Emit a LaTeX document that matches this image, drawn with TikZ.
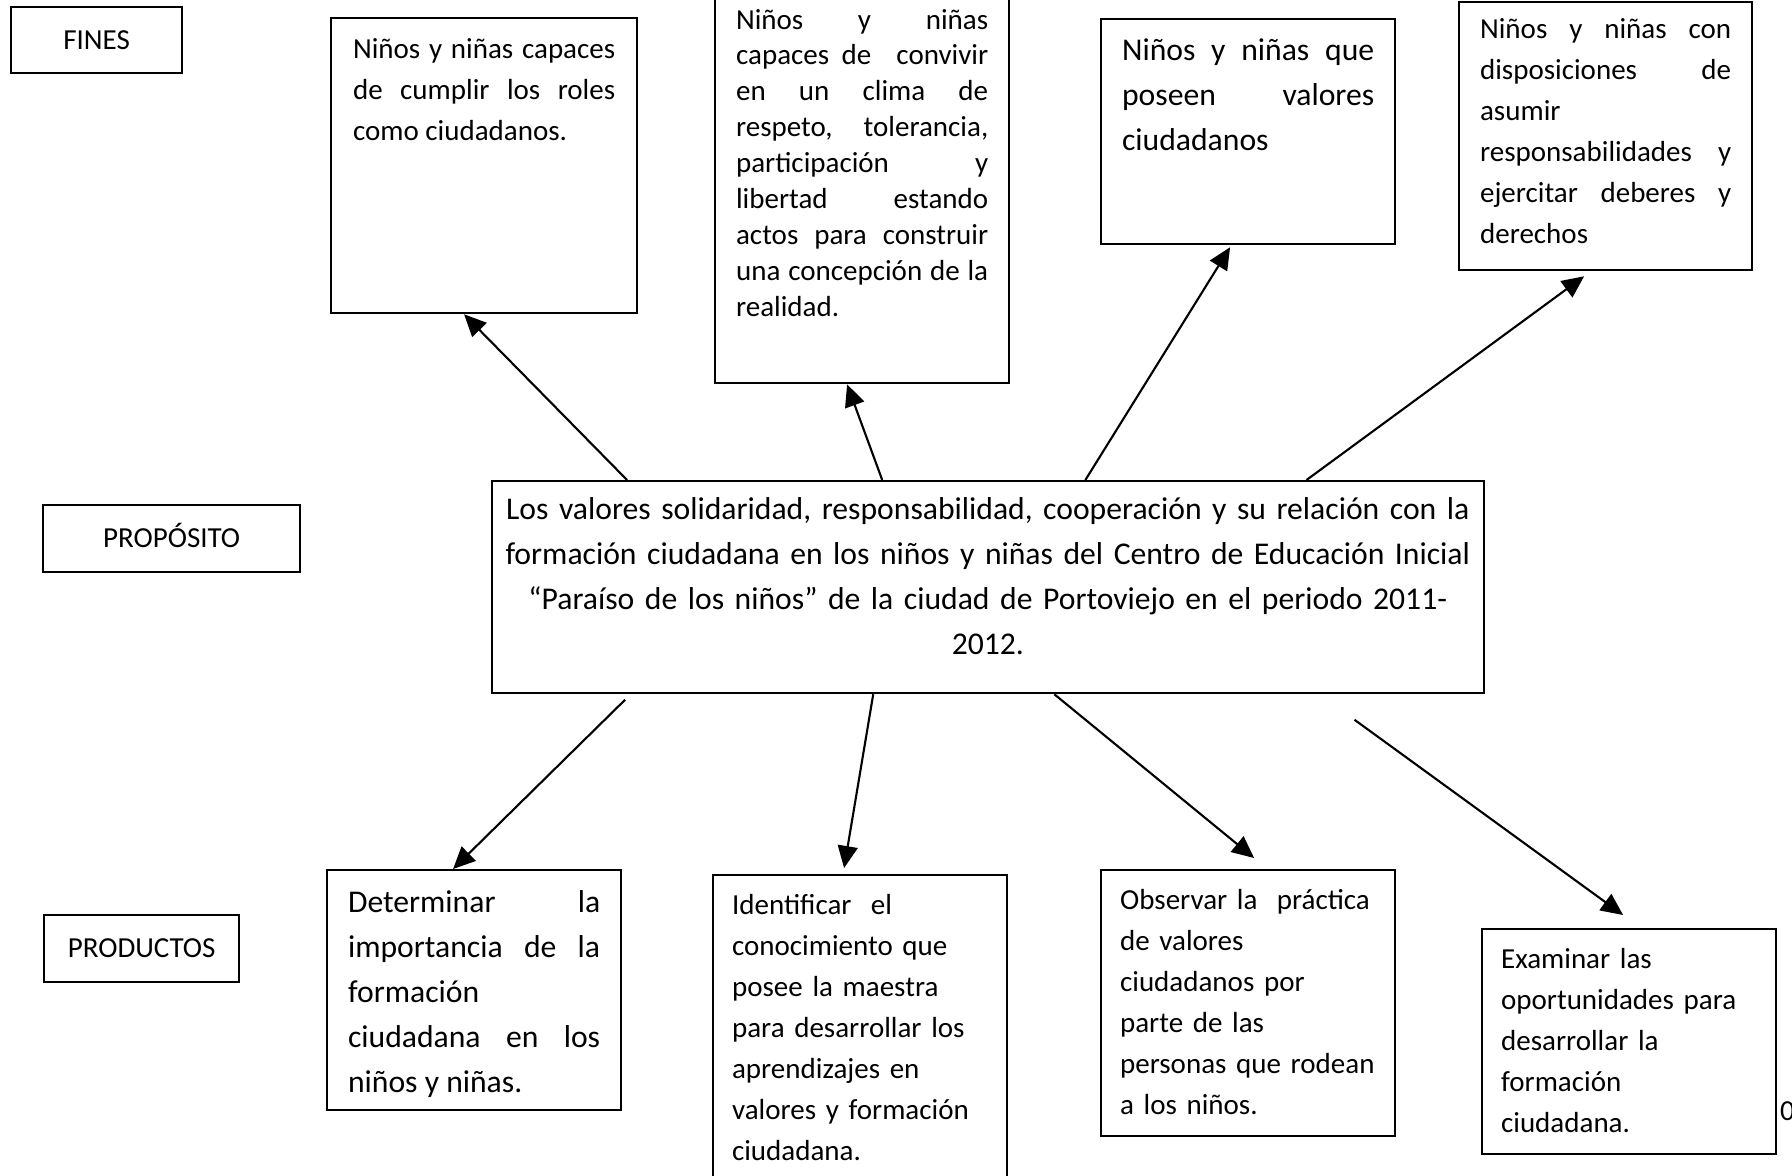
\documentclass[tikz,border=0pt]{standalone}
\usepackage{fontspec}
\setmainfont{Carlito}
\usetikzlibrary{arrows.meta}
\tolerance=10000
\hyphenpenalty=10000
\exhyphenpenalty=10000
\tikzset{
    lbl/.style={draw, anchor=north west, inner sep=0pt, text height=0.644em, text depth=0.12em, font=\fontsize{8.25}{11.7}\selectfont},
    box/.style={draw, anchor=north west, inner ysep=0pt, align=justify, font=\fontsize{8.25}{11.7}\selectfont},
    big/.style={font=\fontsize{9}{12.8}\selectfont}
}

\begin{document}
\begin{tikzpicture}[x=0.01cm,y=-0.01cm,line width=0.6pt,>={Triangle[length=2.2mm,width=2mm]}]
            \useasboundingbox (0,0) rectangle (1792,1175);
            %etiquetas
            \node[lbl, minimum width=1.71cm, minimum height=0.66cm] (fines) at (10,6) {FINES};
            \node[lbl, minimum width=2.57cm, minimum height=0.67cm] (proposito) at (42,504) {PROPÓSITO};
            \node[lbl, minimum width=1.95cm, minimum height=0.67cm] (productos) at (43,914) {PRODUCTOS};
            %fines
            \node[box, text width=2.62cm, inner xsep=0.22cm, text height=0.40cm, text depth=2.55cm] (fin1) at (330,17)
                {Niños y niñas capaces\linebreak de cumplir los roles\linebreak como ciudadanos.};
            \node[box, font=\fontsize{8.25}{10.2}\selectfont, text width=2.52cm, inner xsep=0.21cm, text height=0.39cm, text depth=3.54cm] (fin2) at (714,-11)
                {Niños y niñas\linebreak capaces de~ convivir\linebreak en un clima de\linebreak respeto, tolerancia,\linebreak participación y\linebreak libertad estando\linebreak actos para construir\linebreak una concepción de la\linebreak realidad.};
            \node[box, big, text width=2.52cm, inner xsep=0.21cm, text height=0.41cm, text depth=1.84cm] (fin3) at (1100,18)
                {Niños y niñas que\linebreak poseen valores\linebreak ciudadanos};
            \node[box, text width=2.51cm, inner xsep=0.21cm, text height=0.36cm, text depth=2.32cm] (fin4) at (1458,1)
                {Niños y niñas con\linebreak disposiciones de\linebreak asumir\newline responsabilidades y\linebreak ejercitar deberes y\linebreak derechos};
            %proposito
            \node[box, big, align=center, text width=9.85cm, inner xsep=0.03cm, text height=0.385cm, text depth=1.735cm] (central) at (491,480)
                {Los valores solidaridad, responsabilidad, cooperación y su relación con la\\
                 formación ciudadana en los niños y niñas del Centro de Educación Inicial\\
                 “Paraíso de los niños” de la ciudad de Portoviejo en el periodo 2011-\\
                 2012.};
            %productos
            \node[box, big, text width=2.52cm, inner xsep=0.21cm, text height=0.42cm, text depth=1.98cm] (prod1) at (326,869)
                {Determinar la\linebreak importancia de la\linebreak formación\newline ciudadana en los\linebreak niños y niñas.};
            \node[box, align=left, text width=2.56cm, inner xsep=0.19cm, text height=0.39cm, text depth=2.77cm] (prod2) at (712,874)
                {Identificar~ el\\ conocimiento que\\ posee la maestra\\ para desarrollar los\\ aprendizajes en\\ valores y formación\\ ciudadana.};
            \node[box, align=left, text width=2.56cm, inner xsep=0.19cm, text height=0.39cm, text depth=2.27cm] (prod3) at (1100,869)
                {Observar la~ práctica\\ de valores\\ ciudadanos por\\ parte de las\\ personas que rodean\\ a los niños.};
            \node[box, align=left, text width=2.56cm, inner xsep=0.19cm, text height=0.39cm, text depth=1.86cm] (prod4) at (1481,928)
                {Examinar las\\ oportunidades para\\ desarrollar la\\ formación\\ ciudadana.};
            \node[anchor=base west, inner sep=0pt, font=\fontsize{8.25}{11.7}\selectfont] (num) at (1779,1120) {0};
            %flechas
            \draw[->] ([xshift=1.36cm]central.north west) -- ([xshift=1.34cm]fin1.south west);
            \draw[->] ([xshift=3.91cm]central.north west) -- ([xshift=1.33cm]fin2.south west);
            \draw[->] ([xshift=5.94cm]central.north west) -- ([xshift=1.30cm,yshift=-0.02cm]fin3.south west);
            \draw[->] ([xshift=8.15cm]central.north west) -- ([xshift=1.26cm,yshift=-0.05cm]fin4.south west);
            \draw[->] ([xshift=1.34cm,yshift=-0.055cm]central.south west) -- ([xshift=1.27cm]prod1.north west);
            \draw[->] ([xshift=3.82cm]central.south west) -- ([xshift=1.32cm,yshift=0.06cm]prod2.north west);
            \draw[->] ([xshift=5.63cm]central.south west) -- ([xshift=1.54cm,yshift=0.11cm]prod3.north west);
            \draw[->] ([xshift=8.63cm,yshift=-0.255cm]central.south west) -- ([xshift=1.42cm,yshift=0.13cm]prod4.north west);
        \end{tikzpicture}
\end{document}
